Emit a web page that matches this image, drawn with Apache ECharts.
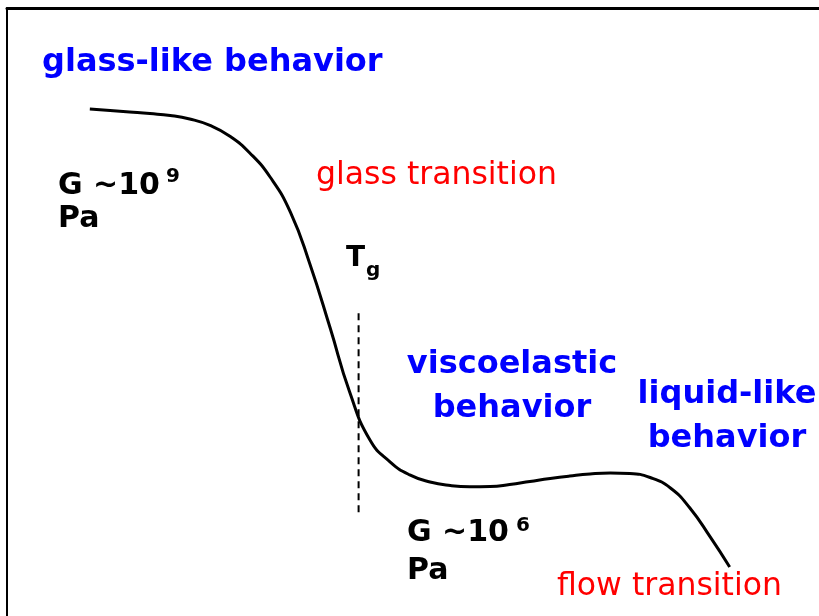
<!DOCTYPE html>
<html>
<head>
<meta charset="utf-8">
<script src="https://cdn.jsdelivr.net/npm/echarts@6/dist/echarts.min.js"></script>
<style>
  html, body { margin: 0; padding: 0; background: #fff; }
  #chart { width: 819px; height: 616px; }
</style>
</head>
<body>
<div id="chart"></div>
<script>
// temperature (arbitrary units) and log10 of modulus G
var temperature = [10.2, 12.7, 15.1, 17.6, 20.1, 22.5, 25.0, 27.5, 29.9, 32.4, 34.9, 37.3, 39.8, 42.2, 44.7, 47.2, 49.6, 52.1, 54.6, 57.0, 59.5, 61.9, 64.4, 66.9, 69.3, 71.8, 74.3, 76.7, 79.2, 81.7, 84.1, 86.6, 89.0];
var logModulus = [9.169, 9.157, 9.145, 9.132, 9.116, 9.087, 9.034, 8.943, 8.808, 8.610, 8.322, 7.895, 7.368, 6.842, 6.447, 6.266, 6.160, 6.102, 6.073, 6.063, 6.065, 6.081, 6.106, 6.131, 6.151, 6.168, 6.176, 6.172, 6.139, 6.053, 5.888, 5.650, 5.403];
// Tg marker: vertical dashed line
var tgX = [43.3, 43.3];
var tgY = [7.49, 5.85];

var BLUE = "#0000ff";
var RED = "#ff0000";
var FONT = "DejaVu Sans, Verdana, sans-serif";

function label(x, y, text, size, color, bold, align) {
    return {
        type: "text",
        x: x,
        y: y,
        style: {
            text: text,
            fill: color,
            font: (bold ? "bold " : "") + size + "px " + FONT,
            textAlign: align || "left",
            textVerticalAlign: "middle"
        }
    };
}

var myChart = echarts.init(document.getElementById("chart"));
var option = {
    animation: false,
    grid: { left: 7, top: 8, right: 0, bottom: 0 },
    xAxis: {
        type: "value",
        position: "top",
        min: 0,
        max: 100,
        axisLine: { show: true, lineStyle: { color: "#000", width: 3 } },
        axisTick: { show: false },
        axisLabel: { show: false },
        splitLine: { show: false }
    },
    yAxis: {
        type: "value",
        min: 5,
        max: 10,
        axisLine: { show: true, lineStyle: { color: "#000", width: 2 } },
        axisTick: { show: false },
        axisLabel: { show: false },
        splitLine: { show: false }
    },
    series: [
        {
            type: "line",
            data: temperature.map(function (t, i) { return [t, logModulus[i]]; }),
            smooth: 0.5,
            showSymbol: false,
            lineStyle: { color: "#000", width: 3 }
        },
        {
            type: "line",
            data: tgX.map(function (t, i) { return [t, tgY[i]]; }),
            showSymbol: false,
            lineStyle: { color: "#000", width: 2, type: [7, 5] }
        }
    ],
    graphic: [
        label(42, 63, "glass-like behavior", 32, BLUE, true),
        label(58, 186, "G ~10", 30, "#000", true),
        label(166, 177, "9", 20, "#000", true),
        label(58, 219, "Pa", 30, "#000", true),
        label(316, 176, "glass transition", 31.5, RED, false),
        label(346, 259, "T", 28, "#000", true),
        label(366, 271, "g", 20, "#000", true),
        label(512, 365, "viscoelastic", 32, BLUE, true, "center"),
        label(512, 409, "behavior", 32, BLUE, true, "center"),
        label(727, 395, "liquid-like", 32, BLUE, true, "center"),
        label(727, 439, "behavior", 32, BLUE, true, "center"),
        label(407, 533, "G ~10", 30, "#000", true),
        label(516, 526, "6", 20, "#000", true),
        label(407, 571, "Pa", 30, "#000", true),
        label(557, 587, "flow transition", 31.5, RED, false)
    ]
};
myChart.setOption(option);
window.addEventListener("resize", function () {
    myChart.resize();
});
</script>
</body>
</html>
